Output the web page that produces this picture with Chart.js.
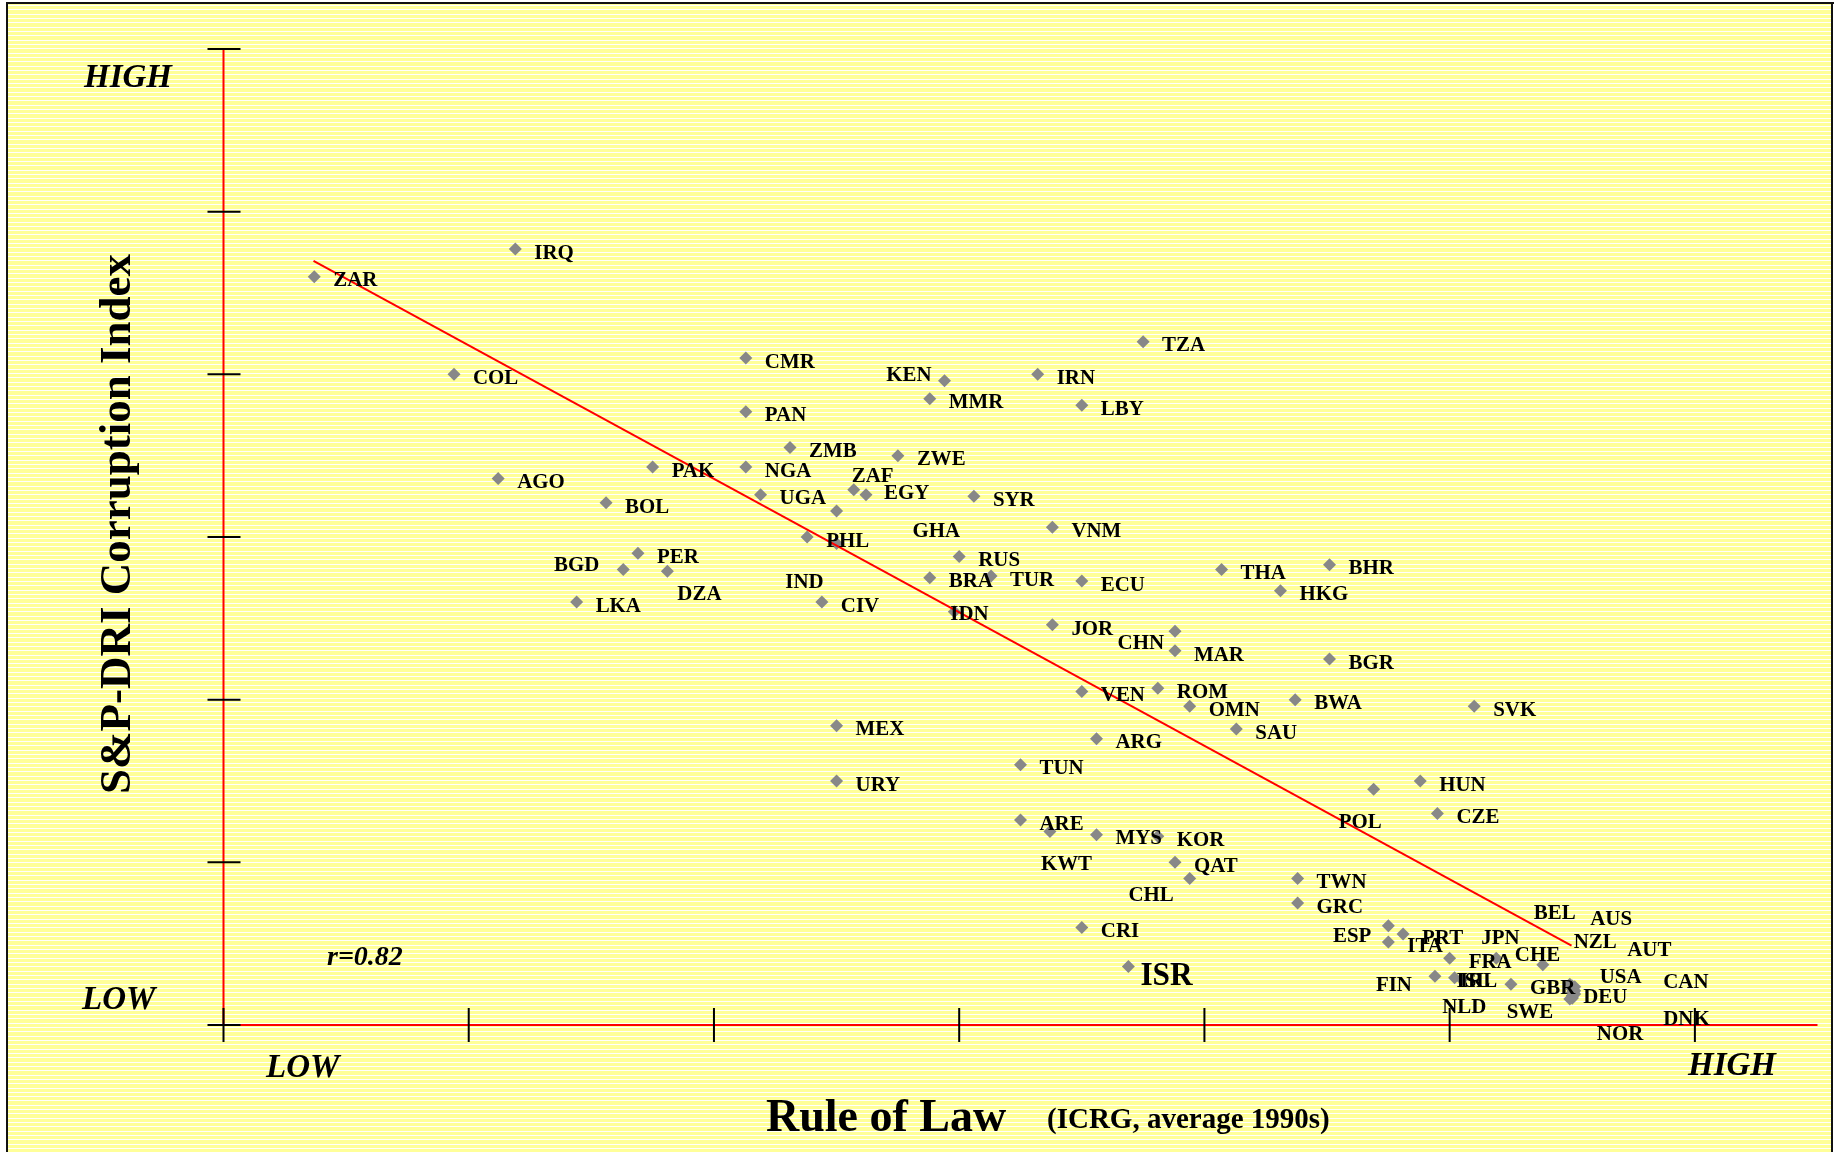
<!DOCTYPE html>
<html>
<head>
<meta charset="utf-8">
<title>Rule of Law vs Corruption</title>
<script src="https://cdn.jsdelivr.net/npm/chart.js@4.4.1/dist/chart.umd.min.js"></script>
<style>
  html, body { margin: 0; padding: 0; background: #fff; overflow: hidden; }
  canvas { display: block; }
</style>
</head>
<body>
<canvas id="chart" width="1835" height="1152"></canvas>
<script>
// country codes, ICRG rule of law (x), S&P-DRI corruption index (y)
const countries = [
  "ZAR","IRQ","COL","CMR","PAN","ZMB","AGO","PAK","NGA","BOL",
  "UGA","ZAF","EGY","PHL","IND","PER","BGD","DZA","LKA","CIV",
  "TZA","KEN","IRN","MMR","LBY","ZWE","SYR","GHA","VNM","RUS",
  "BRA","TUR","ECU","IDN","THA","BHR","HKG","JOR","CHN","MAR",
  "BGR","VEN","ROM","OMN","BWA","SVK","MEX","SAU","ARG","URY",
  "TUN","ARE","KWT","MYS","KOR","QAT","CHL","CRI","ISR","HUN",
  "POL","CZE","TWN","GRC","ESP","PRT","ITA","FRA","JPN","FIN",
  "ISL","IRL","CHE","GBR","BEL","AUS","NZL","AUT","USA","CAN",
  "SWE","NLD","DNK","DEU","NOR"
];
const ruleOfLaw = [
  0.37, 1.19, 0.94, 2.13, 2.13, 2.31, 1.12, 1.75, 2.13, 1.56,
  2.19, 2.57, 2.62, 2.38, 2.50, 1.69, 1.63, 1.81, 1.44, 2.44,
  3.75, 2.94, 3.32, 2.88, 3.50, 2.75, 3.06, 2.50, 3.38, 3.00,
  2.88, 3.13, 3.50, 2.98, 4.07, 4.51, 4.31, 3.38, 3.88, 3.88,
  4.51, 3.50, 3.81, 3.94, 4.37, 5.10, 2.50, 4.13, 3.56, 2.50,
  3.25, 3.25, 3.37, 3.56, 3.81, 3.88, 3.94, 3.50, 3.69, 4.88,
  4.69, 4.95, 4.38, 4.38, 4.75, 4.81, 4.75, 5.00, 5.19, 4.94,
  5.02, 5.05, 5.38, 5.25, 5.49, 5.50, 5.51, 5.50, 5.51, 5.50,
  5.51, 5.50, 5.50, 5.50, 5.49
];
const corruption = [
  4.60, 4.77, 4.00, 4.10, 3.77, 3.55, 3.36, 3.43, 3.43, 3.21,
  3.26, 3.29, 3.26, 3.00, 2.96, 2.90, 2.80, 2.79, 2.60, 2.60,
  4.20, 3.96, 4.00, 3.85, 3.81, 3.50, 3.25, 3.16, 3.06, 2.88,
  2.75, 2.76, 2.73, 2.54, 2.80, 2.83, 2.67, 2.46, 2.42, 2.30,
  2.25, 2.05, 2.07, 1.96, 2.00, 1.96, 1.84, 1.82, 1.76, 1.50,
  1.60, 1.26, 1.19, 1.17, 1.16, 1.00, 0.90, 0.60, 0.36, 1.50,
  1.45, 1.30, 0.90, 0.75, 0.61, 0.56, 0.51, 0.41, 0.41, 0.30,
  0.29, 0.28, 0.37, 0.25, 0.25, 0.24, 0.235, 0.22, 0.21, 0.20,
  0.19, 0.18, 0.17, 0.165, 0.16
];
// fitted line (r = 0.82), end points
const fitX = [0.367, 5.497];
const fitY = [4.697, 0.488];
const xTicks = [0, 1, 2, 3, 4, 5, 6];
const yTicks = [0, 1, 2, 3, 4, 5, 6];

// label placement: [dx, dy, align] relative to the marker, default right of it
const labelDefault = [19, 4, "l"];
const labelPlace = {
  ZAF: [-2, -14], BGD: [-24, -4, "r"], DZA: [10, 23], IND: [-13, 39, "r"],
  KEN: [-13, -6, "r"], EGY: [18, -1], GHA: [76, 20], IDN: [-4, 2],
  CHN: [-11, 12, "r"], KWT: [-9, 33], CHL: [-16, 17, "r"], ISR: [12, 10],
  ESP: [-17, 11, "r"], JPN: [-15, -20], FIN: [-23, 9, "r"], POL: [-35, 33],
  CHE: [-28, -10], ISL: [2, 3], IRL: [-2, 2],
  BEL: [-36, -71], AUS: [18, -67], NZL: [-1, -44], AUT: [55, -39],
  USA: [25, -14], CAN: [91, -10], SWE: [-68, 18], NLD: [-130, 12],
  DNK: [91, 22], DEU: [11, -1], NOR: [27, 35]
};

const SERIF = "'Liberation Serif', 'Times New Roman', serif";

const points = countries.map((c, i) => ({ x: ruleOfLaw[i], y: corruption[i] }));
const fitLine = fitX.map((x, i) => ({ x: x, y: fitY[i] }));

// striped yellow sheet with black frame
const paper = {
  id: "paper",
  beforeDraw(chart) {
    const ctx = chart.ctx;
    const w = chart.width, h = chart.height;
    ctx.save();
    ctx.fillStyle = "#ffffff";
    ctx.fillRect(0, 0, w, h);
    ctx.fillStyle = "#ffff99";
    ctx.fillRect(7, 3, 1825, h);
    ctx.fillStyle = "#ffffff";
    for (let i = 0; 3 + i * 4.33 < h; i++) {
      ctx.fillRect(8, Math.round(5 + i * 4.33), 1823, 1);
    }
    ctx.fillStyle = "#111";
    ctx.fillRect(6, 2, 2, h);
    ctx.fillRect(6, 2, 1828, 2);
    ctx.fillRect(1831, 2, 2, h);
    ctx.restore();
  }
};

// red axes with black crossing ticks
const axes = {
  id: "axes",
  beforeDatasetsDraw(chart) {
    const ctx = chart.ctx;
    const xs = chart.scales.x, ys = chart.scales.y;
    const x0 = xs.getPixelForValue(0), y0 = ys.getPixelForValue(0);
    ctx.save();
    ctx.strokeStyle = "#ff0000";
    ctx.lineWidth = 2;
    ctx.beginPath();
    ctx.moveTo(x0, ys.getPixelForValue(yTicks[yTicks.length - 1]));
    ctx.lineTo(x0, y0);
    ctx.moveTo(x0, y0);
    ctx.lineTo(xs.right, y0);
    ctx.stroke();
    ctx.strokeStyle = "#000";
    ctx.lineWidth = 2;
    ctx.beginPath();
    yTicks.forEach((v) => {
      const py = ys.getPixelForValue(v);
      ctx.moveTo(x0 - 16, py);
      ctx.lineTo(x0 + 17, py);
    });
    xTicks.forEach((v) => {
      const px = xs.getPixelForValue(v);
      ctx.moveTo(px, y0 - 17);
      ctx.lineTo(px, y0 + 17);
    });
    ctx.stroke();
    ctx.restore();
  }
};

// text squeezed a little sideways, like the original slide
function squeezed(ctx, text, x, y, sx) {
  ctx.save();
  ctx.translate(x, y);
  ctx.scale(sx, 1);
  ctx.fillText(text, 0, 0);
  ctx.restore();
}

// country labels + titles
const labels = {
  id: "labels",
  afterDatasetsDraw(chart) {
    const ctx = chart.ctx;
    const meta = chart.getDatasetMeta(0);
    ctx.save();
    ctx.fillStyle = "#000";
    ctx.textBaseline = "middle";
    meta.data.forEach((pt, i) => {
      const code = countries[i];
      const p = labelPlace[code] || labelDefault;
      ctx.font = (code === "ISR" ? "bold 33px " : "bold 22px ") + SERIF;
      ctx.textAlign = p[2] === "r" ? "right" : "left";
      squeezed(ctx, code, pt.x + p[0], pt.y + p[1], 0.95);
    });

    ctx.textAlign = "left";
    ctx.font = "italic bold 33px " + SERIF;
    ctx.fillText("HIGH", 84, 78);
    ctx.fillText("LOW", 82, 1000);
    ctx.fillText("LOW", 266, 1068);
    ctx.fillText("HIGH", 1688, 1066);
    ctx.font = "italic bold 28px " + SERIF;
    ctx.fillText("r=0.82", 327, 958);

    ctx.textBaseline = "alphabetic";
    ctx.font = "bold 46px " + SERIF;
    ctx.fillText("Rule of Law", 766, 1131);
    ctx.font = "bold 29px " + SERIF;
    ctx.fillText("(ICRG, average 1990s)", 1047, 1128);

    ctx.translate(130, 524);
    ctx.rotate(-Math.PI / 2);
    ctx.textAlign = "center";
    ctx.font = "bold 45px " + SERIF;
    ctx.fillText("S&P-DRI Corruption Index", 0, 0);
    ctx.restore();
  }
};

new Chart(document.getElementById("chart").getContext("2d"), {
  type: "scatter",
  data: {
    datasets: [
      {
        label: "countries",
        data: points,
        pointStyle: "rectRot",
        pointRadius: 6.5,
        backgroundColor: "#888888",
        borderWidth: 0,
        order: 1,
      },
      {
        label: "fit",
        data: fitLine,
        showLine: true,
        borderColor: "#ff0000",
        borderWidth: 2,
        pointRadius: 0,
        order: 0,
      },
    ],
  },
  options: {
    responsive: false,
    animation: false,
    events: [],
    layout: { padding: { left: 223.5, top: 49, right: 17.5, bottom: 127 } },
    plugins: { legend: { display: false }, tooltip: { enabled: false } },
    scales: {
      x: { type: "linear", min: 0, max: 6.5, display: false },
      y: { type: "linear", min: 0, max: 6, display: false },
    },
  },
  plugins: [paper, axes, labels],
});
</script>
</body>
</html>
